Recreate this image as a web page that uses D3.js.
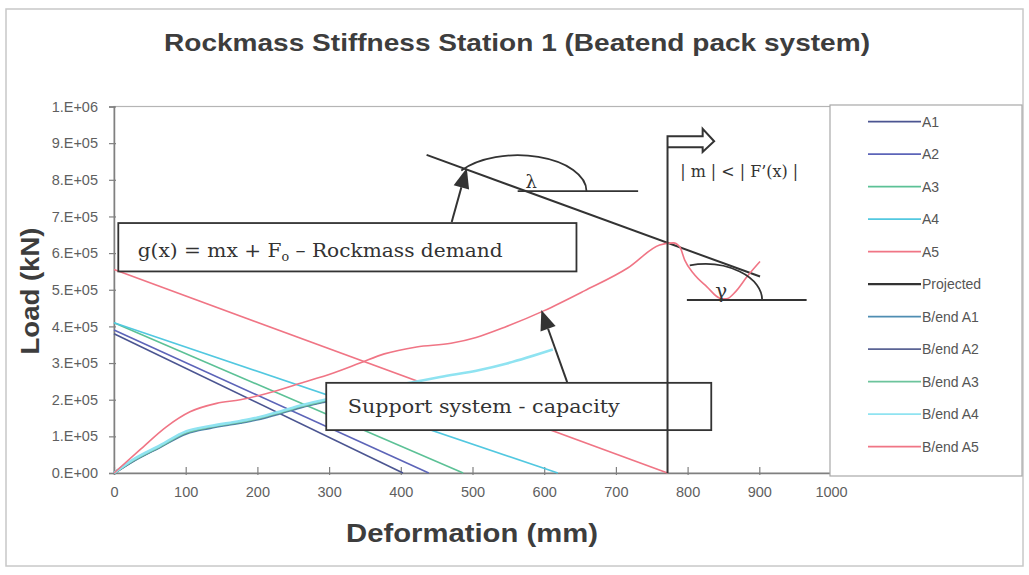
<!DOCTYPE html>
<html>
<head>
<meta charset="utf-8">
<script src="https://cdn.jsdelivr.net/npm/d3@7"></script>
<style>
  body { margin: 0; background: #fff; }
  svg text { font-family: "Liberation Sans", Arial, sans-serif; }
  .serif { font-family: "DejaVu Serif", "Liberation Serif", serif !important; }
</style>
</head>
<body>
<svg id="chart" width="1029" height="575"></svg>
<script>
// ---- data ----
var seriesNames = ["A1", "A2", "A3", "A4", "A5", "Projected",
    "B/end A1", "B/end A2", "B/end A3", "B/end A4", "B/end A5"];
var seriesColors = ["#4b5591", "#5c64b8", "#5cc196", "#52c8e0", "#f07585", "#333333",
    "#4f8db2", "#5a6394", "#6cc49c", "#8fe3f1", "#f07585"];

var xTicks = [0, 100, 200, 300, 400, 500, 600, 700, 800, 900, 1000];
var yTicks = [0, 1e5, 2e5, 3e5, 4e5, 5e5, 6e5, 7e5, 8e5, 9e5, 1e6];
var yTickLabels = ["0.E+00", "1.E+05", "2.E+05", "3.E+05", "4.E+05", "5.E+05",
    "6.E+05", "7.E+05", "8.E+05", "9.E+05", "1.E+06"];

// rockmass demand lines [deformation mm, load kN]
var a1 = [[0, 380000], [403, 0]];
var a2 = [[0, 390000], [439, 0]];
var a3 = [[0, 410000], [487, 0]];
var a4 = [[0, 410000], [619, 0]];
var a5 = [[0, 555000], [772, 0]];
var projected = [[436, 868000], [901, 536000]];

// support capacity curves
var bendA1 = [[0, 0], [27, 33000], [64, 71000], [101, 108000], [134, 123000], [176, 137000],
    [199, 146000], [232, 163000], [260, 179000], [297, 196000], [330, 210000]];
var bendA2 = [[0, 0], [27, 34000], [64, 72000], [101, 110000], [134, 125000], [176, 139000],
    [199, 148000], [232, 165000], [260, 181000], [297, 198000], [350, 220000]];
var bendA3 = [[0, 0], [27, 35000], [64, 73000], [101, 111000], [134, 126000], [176, 140000],
    [199, 149000], [232, 166000], [260, 182000], [297, 199000], [380, 233000]];
var bendA4 = [[0, 0], [27, 37000], [64, 75000], [101, 114000], [134, 128000], [176, 142000],
    [199, 151000], [232, 168000], [260, 184000], [297, 201000], [330, 213000], [370, 230000],
    [418, 248000], [455, 262000], [510, 281000], [548, 299000], [612, 337000]];
var bendA5 = [[0, 0], [36, 63000], [73, 126000], [106, 167000], [143, 190000], [176, 200000],
    [213, 217000], [260, 245000], [306, 273000], [343, 300000], [377, 325000], [422, 344000],
    [470, 354000], [505, 370000], [545, 398000], [600, 443000], [656, 497000], [717, 560000],
    [761, 622000], [780, 628000], [789, 617000], [796, 581000], [808, 545000], [827, 508000],
    [845, 477000], [854, 475000], [867, 495000], [883, 536000], [901, 577000]];

var seriesData = [a1, a2, a3, a4, a5, projected, bendA1, bendA2, bendA3, bendA4, bendA5];

// ---- chart ----
var svg = d3.select("#chart");

var x = d3.scaleLinear().domain([0, 1000]).range([114, 831]),
    y = d3.scaleLinear().domain([0, 1e6]).range([473, 106.5]);

// outer chart border
svg.append("rect")
    .attr("x", 6).attr("y", 9).attr("width", 1017).attr("height", 557)
    .attr("fill", "#fff").attr("stroke", "#c8c8c8").attr("stroke-width", 1.5);

// title
svg.append("text")
    .attr("x", 517).attr("y", 51)
    .attr("text-anchor", "middle")
    .attr("font-size", 24).attr("font-weight", "bold").attr("fill", "#3d3d3d")
    .attr("textLength", 706).attr("lengthAdjust", "spacingAndGlyphs")
    .text("Rockmass Stiffness Station 1 (Beatend pack system)");

// plot area frame
svg.append("rect")
    .attr("x", x(0)).attr("y", y(1e6))
    .attr("width", x(1000) - x(0)).attr("height", y(0) - y(1e6))
    .attr("fill", "none").attr("stroke", "#b5b5b5").attr("stroke-width", 1.2);

// axes
var xAxis = svg.append("g")
    .attr("transform", "translate(0," + y(0) + ")")
    .call(d3.axisBottom(x).tickValues(xTicks).tickSizeOuter(0).tickSize(2).tickPadding(12)
        .tickFormat(d3.format("d")));
var yAxis = svg.append("g")
    .attr("transform", "translate(" + x(0) + ",0)")
    .call(d3.axisLeft(y).tickValues(yTicks).tickSizeOuter(0).tickSize(5).tickPadding(12)
        .tickFormat(function (d, i) { return yTickLabels[i]; }));

xAxis.selectAll(".tick line").attr("y1", -6).attr("y2", 2);
yAxis.selectAll(".tick line").attr("x1", 2).attr("x2", -5);
[xAxis, yAxis].forEach(function (ax) {
    ax.select(".domain").attr("stroke", "#808080").attr("stroke-width", 1.5);
    ax.selectAll(".tick line").attr("stroke", "#808080").attr("stroke-width", 1.2);
    ax.selectAll(".tick text").attr("font-size", 14.5).attr("fill", "#5f5f5f")
        .attr("font-family", "'Liberation Sans', Arial, sans-serif");
});
yAxis.selectAll(".tick text").attr("x", -16);

// axis titles
svg.append("text")
    .attr("x", 472).attr("y", 542)
    .attr("text-anchor", "middle")
    .attr("font-size", 26).attr("font-weight", "bold").attr("fill", "#3d3d3d")
    .attr("textLength", 252).attr("lengthAdjust", "spacingAndGlyphs")
    .text("Deformation (mm)");
svg.append("text")
    .attr("transform", "translate(39,291) rotate(-90)")
    .attr("text-anchor", "middle")
    .attr("font-size", 26).attr("font-weight", "bold").attr("fill", "#3d3d3d")
    .attr("textLength", 127).attr("lengthAdjust", "spacingAndGlyphs")
    .text("Load (kN)");

// series lines
var line = d3.line()
    .x(d => x(d[0]))
    .y(d => y(d[1]))
    .curve(d3.curveMonotoneX);

var plot = svg.append("g").attr("class", "plot");
seriesData.forEach(function (datum, i) {
    plot.append("path")
        .datum(datum)
        .attr("fill", "none")
        .attr("stroke", seriesColors[i])
        .attr("stroke-width", i === 5 ? 2 : (i >= 6 && i <= 9 ? 2.6 : 1.6))
        .attr("d", line);
});

// legend
var legend = svg.append("g");
legend.append("rect")
    .attr("x", 830).attr("y", 105).attr("width", 192).attr("height", 371)
    .attr("fill", "#fff").attr("stroke", "#a8a8a8").attr("stroke-width", 1.2);
seriesNames.forEach(function (name, i) {
    var ly = 121.7 + i * 32.5;
    legend.append("line")
        .attr("x1", 868).attr("x2", 921).attr("y1", ly).attr("y2", ly)
        .attr("stroke", seriesColors[i]).attr("stroke-width", i === 5 ? 2.2 : 1.8);
    legend.append("text")
        .attr("x", 922).attr("y", ly).attr("dy", "0.35em")
        .attr("font-size", 14).attr("fill", "#555")
        .text(name);
});

// ---- annotations (positions in data units) ----
var ink = "#333";
var ann = svg.append("g");

function box(b) {
    ann.append("rect")
        .attr("x", x(b.x0)).attr("y", y(b.y1))
        .attr("width", x(b.x1) - x(b.x0)).attr("height", y(b.y0) - y(b.y1))
        .attr("fill", "#fff").attr("stroke", ink).attr("stroke-width", 1.8);
}

function arrow(from, tip) {
    var x0 = x(from[0]), y0 = y(from[1]), x1 = x(tip[0]), y1 = y(tip[1]);
    var dx = x1 - x0, dy = y1 - y0, len = Math.sqrt(dx * dx + dy * dy);
    var ux = dx / len, uy = dy / len, hl = 20, hw = 8;
    var bx = x1 - ux * hl, by = y1 - uy * hl;
    ann.append("line")
        .attr("x1", x0).attr("y1", y0).attr("x2", bx).attr("y2", by)
        .attr("stroke", ink).attr("stroke-width", 2);
    ann.append("path")
        .attr("d", "M" + x1 + "," + y1 +
            "L" + (bx - uy * hw) + "," + (by + ux * hw) +
            "L" + (bx + uy * hw) + "," + (by - ux * hw) + "Z")
        .attr("fill", ink);
}

var demandBox = { x0: 6, x1: 645, y0: 550000, y1: 682000 };
var supportBox = { x0: 296, x1: 833, y0: 117000, y1: 246000 };

box(demandBox);
var gt = ann.append("text").attr("class", "serif")
    .attr("x", x(33)).attr("y", y(590000))
    .attr("font-size", 19).attr("fill", ink)
    .attr("textLength", 365).attr("lengthAdjust", "spacingAndGlyphs");
gt.append("tspan").text("g(x) = mx + F");
gt.append("tspan").attr("font-size", 12).attr("dy", 4).text("o");
gt.append("tspan").attr("dy", -4).text(" \u2013 Rockmass demand");

box(supportBox);
ann.append("text").attr("class", "serif")
    .attr("x", x(326)).attr("y", y(164000))
    .attr("font-size", 19).attr("fill", ink)
    .attr("textLength", 272).attr("lengthAdjust", "spacingAndGlyphs")
    .text("Support system - capacity");

arrow([471, 685000], [492, 832000]);
arrow([632, 248000], [596, 445000]);

// lambda angle: horizontal reference and arc from the projected line
var lam = { vx: 563, vy: 769000, x1: 731, rx: 96, ry: 98000 };
var lvx = x(lam.vx), lvy = y(lam.vy);
var lrx = x(lam.vx + lam.rx) - lvx, lry = lvy - y(lam.vy + lam.ry);
var pdx = x(projected[0][0]) - x(projected[1][0]), pdy = y(projected[0][1]) - y(projected[1][1]);
var pl = Math.sqrt(pdx * pdx + pdy * pdy), pux = pdx / pl, puy = pdy / pl;
var lt = 1 / Math.sqrt(Math.pow(pux / lrx, 2) + Math.pow(puy / lry, 2));
ann.append("line")
    .attr("x1", lvx).attr("y1", lvy).attr("x2", x(lam.x1)).attr("y2", lvy)
    .attr("stroke", ink).attr("stroke-width", 1.8);
ann.append("path")
    .attr("d", "M" + (lvx + lt * pux) + "," + (lvy + lt * puy) +
        "A" + lrx + "," + lry + " 0 0 1 " + (lvx + lrx) + "," + lvy)
    .attr("fill", "none").attr("stroke", ink).attr("stroke-width", 1.8);
ann.append("text").attr("class", "serif")
    .attr("x", x(582)).attr("y", y(777000))
    .attr("text-anchor", "middle").attr("font-size", 18).attr("fill", ink)
    .text("\u03bb");

// gamma angle
var gam = { cx: 824, cy: 472000, x0: 799, x1: 966, rx: 80, ry: 98000, sx: 803 };
var gcx = x(gam.cx), gcy = y(gam.cy);
var grx = x(gam.cx + gam.rx) - gcx, gry = gcy - y(gam.cy + gam.ry);
var gsx = x(gam.sx), gsy = gcy - gry * Math.sqrt(1 - Math.pow((gsx - gcx) / grx, 2));
ann.append("line")
    .attr("x1", x(gam.x0)).attr("y1", gcy).attr("x2", x(gam.x1)).attr("y2", gcy)
    .attr("stroke", ink).attr("stroke-width", 1.8);
ann.append("path")
    .attr("d", "M" + gsx + "," + gsy + "A" + grx + "," + gry + " 0 0 1 " + (gcx + grx) + "," + gcy)
    .attr("fill", "none").attr("stroke", ink).attr("stroke-width", 1.8);
ann.append("text").attr("class", "serif")
    .attr("x", x(847)).attr("y", y(478000))
    .attr("text-anchor", "middle").attr("font-size", 20).attr("fill", ink)
    .text("\u03b3");

// vertical limit line with open block arrow
var lim = { x: 772, top: 919000, shaftLow: 889000, headX: 821, tipX: 837, headTop: 939000, headBot: 876000, mid: 905000 };
ann.append("path")
    .attr("d", "M" + x(lim.x) + "," + y(0) +
        "V" + y(lim.top) + "H" + x(lim.headX) + "V" + y(lim.headTop) +
        "L" + x(lim.tipX) + "," + y(lim.mid) +
        "L" + x(lim.headX) + "," + y(lim.headBot) +
        "V" + y(lim.shaftLow) + "H" + x(lim.x))
    .attr("fill", "none").attr("stroke", ink).attr("stroke-width", 2);
ann.append("text").attr("class", "serif")
    .attr("x", x(872)).attr("y", y(808000))
    .attr("text-anchor", "middle").attr("font-size", 17).attr("fill", ink)
    .attr("textLength", 118).attr("lengthAdjust", "spacingAndGlyphs")
    .text("| m | < | F\u2019(x) |");
</script>
</body>
</html>
